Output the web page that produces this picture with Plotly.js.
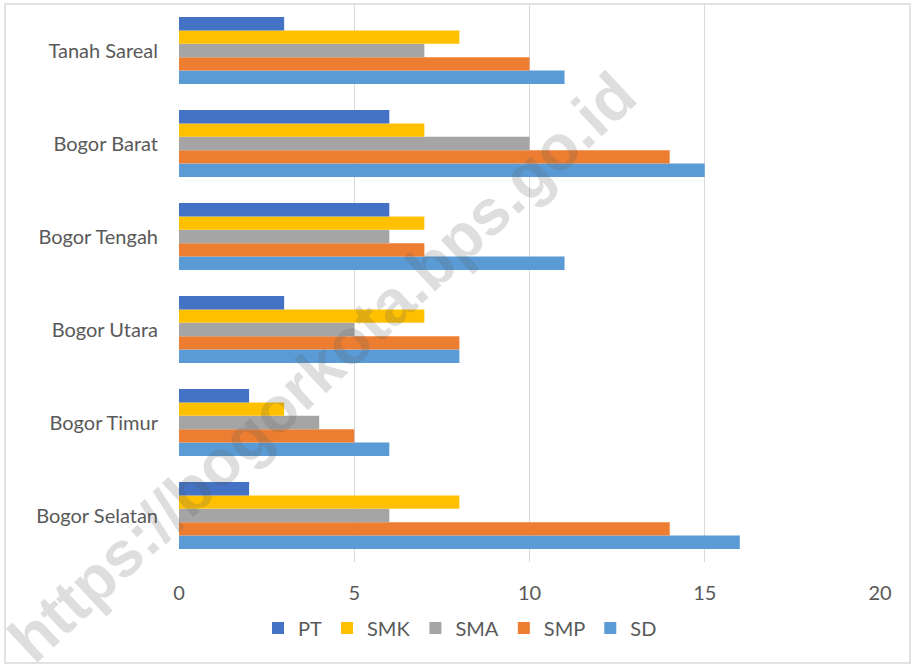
<!DOCTYPE html>
<html>
<head>
<meta charset="utf-8">
<script src="https://cdn.plot.ly/plotly-3.0.1.min.js"></script>
<style>
  body { margin: 0; background: #fff; }
  #plot { width: 911px; height: 664px; }
</style>
</head>
<body>
<div id="plot"></div>
<script>
// kecamatan, bottom to top
var kecamatan = ['Bogor Selatan', 'Bogor Timur', 'Bogor Utara', 'Bogor Tengah', 'Bogor Barat', 'Tanah Sareal'];

var sd  = [16, 6, 8, 11, 15, 11];
var smp = [14, 5, 8, 7, 14, 10];
var sma = [6, 4, 5, 6, 10, 7];
var smk = [8, 3, 7, 7, 7, 8];
var pt  = [2, 2, 3, 6, 6, 3];

var xTicks = [0, 5, 10, 15, 20];

function bar(name, vals, color) {
    return {
        name: name,
        x: vals,
        y: kecamatan,
        type: 'bar',
        orientation: 'h',
        marker: {color: color},
        hoverinfo: 'x+name'
    };
}

// first trace sits lowest in each group, so SD goes first
var data = [
    bar('SD', sd, '#5B9BD5'),
    bar('SMP', smp, '#ED7D31'),
    bar('SMA', sma, '#A5A5A5'),
    bar('SMK', smk, '#FFC000'),
    bar('PT', pt, '#4472C4')
];

// helpers to place things by pixel
var L = 179, R = 880, T = 4, B = 562;
function px(x) { return (x - L) / (R - L); }
function py(y) { return (B - y) / (B - T); }

var font = 'Lato, "Open Sans", sans-serif';

var layout = {
    width: 911,
    height: 664,
    margin: {l: L, r: 911 - R, t: T, b: 664 - B},
    paper_bgcolor: '#fff',
    plot_bgcolor: '#fff',
    barmode: 'group',
    bargap: 0.28,
    bargroupgap: 0,
    font: {family: font, color: '#595959', size: 20},
    xaxis: {
        range: [0, 20],
        tickvals: xTicks,
        showgrid: true,
        gridcolor: '#D9D9D9',
        gridwidth: 1,
        zeroline: false,
        showline: false,
        ticks: '',
        ticklabelstandoff: 17,
        tickfont: {size: 20, color: '#595959'},
        fixedrange: true
    },
    yaxis: {
        type: 'category',
        categoryorder: 'array',
        categoryarray: kecamatan,
        showgrid: false,
        zeroline: false,
        showline: false,
        ticks: '',
        ticklabelstandoff: 20,
        tickfont: {size: 20, color: '#595959'},
        fixedrange: true
    },
    showlegend: true,
    legend: {
        orientation: 'h',
        traceorder: 'reversed',
        x: px(460),
        xanchor: 'center',
        y: py(628),
        yanchor: 'middle',
        font: {size: 20, color: '#595959'},
        itemwidth: 30
    },
    shapes: [{
        type: 'rect',
        xref: 'paper', yref: 'paper',
        x0: px(5), x1: px(910), y0: py(4), y1: py(663),
        line: {color: '#D9D9D9', width: 1.5},
        fillcolor: 'rgba(0,0,0,0)',
        layer: 'below'
    }],
    annotations: [{
        text: 'https://bogorkota.bps.go.id',
        xref: 'paper', yref: 'paper',
        x: px(322), y: py(367),
        xanchor: 'center',
        yanchor: 'middle',
        showarrow: false,
        textangle: -43,
        font: {family: '"Liberation Sans", sans-serif', size: 64, color: 'rgba(90,90,90,0.2)', weight: 'bold'}
    }]
};

Plotly.newPlot('plot', data, layout, {displayModeBar: false});
</script>
</body>
</html>
